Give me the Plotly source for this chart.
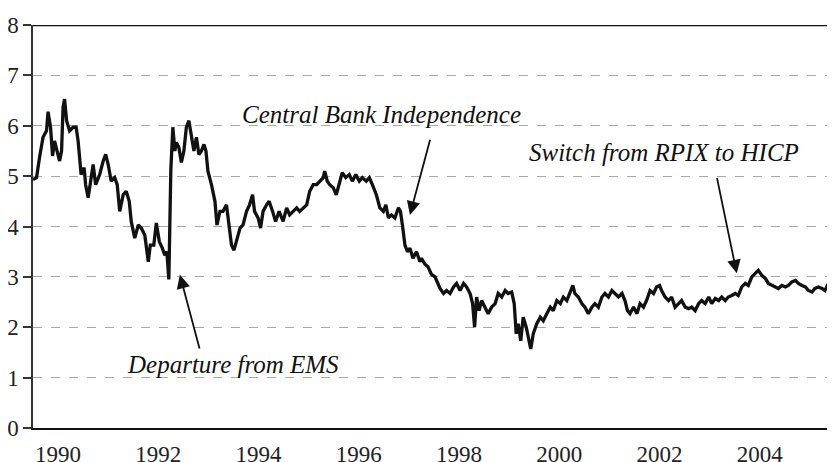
import plotly.graph_objects as go

# inflation expectations series (decimal years)
years = [
    1990.00, 1990.07, 1990.13, 1990.20, 1990.27, 1990.30, 1990.35, 1990.39, 1990.43, 1990.48,
    1990.53, 1990.57, 1990.60, 1990.63, 1990.67, 1990.73, 1990.80, 1990.86, 1990.90, 1990.96,
    1991.02, 1991.05, 1991.10, 1991.15, 1991.20, 1991.25, 1991.33, 1991.40, 1991.45, 1991.50,
    1991.56, 1991.63, 1991.68, 1991.73, 1991.80, 1991.86, 1991.92, 1991.96, 1992.03, 1992.10,
    1992.16, 1992.23, 1992.30, 1992.34, 1992.41, 1992.46, 1992.52, 1992.58, 1992.63, 1992.67,
    1992.71, 1992.75, 1992.79, 1992.83, 1992.86, 1992.91, 1992.96, 1993.01, 1993.06, 1993.11,
    1993.16, 1993.21, 1993.26, 1993.31, 1993.36, 1993.41, 1993.45, 1993.49, 1993.56, 1993.63,
    1993.67, 1993.73, 1993.79, 1993.86, 1993.91, 1993.96, 1994.01, 1994.06, 1994.13, 1994.19,
    1994.26, 1994.32, 1994.38, 1994.42, 1994.49, 1994.54, 1994.59, 1994.66, 1994.71, 1994.78,
    1994.84, 1994.91, 1994.99, 1995.06, 1995.12, 1995.19, 1995.26, 1995.32, 1995.39, 1995.46,
    1995.52, 1995.59, 1995.66, 1995.72, 1995.79, 1995.82, 1995.87, 1995.92, 1995.99, 1996.05,
    1996.12, 1996.17, 1996.24, 1996.31, 1996.37, 1996.44, 1996.51, 1996.57, 1996.65, 1996.71,
    1996.77, 1996.85, 1996.92, 1996.99, 1997.04, 1997.09, 1997.15, 1997.22, 1997.29, 1997.33,
    1997.37, 1997.42, 1997.47, 1997.52, 1997.58, 1997.65, 1997.72, 1997.75, 1997.82, 1997.88,
    1997.95,
    1998.02, 1998.12, 1998.19, 1998.25, 1998.32, 1998.39, 1998.45, 1998.52, 1998.59, 1998.65,
    1998.72, 1998.77, 1998.81, 1998.85, 1998.90, 1998.95, 1999.02, 1999.08, 1999.15, 1999.22,
    1999.28, 1999.35, 1999.42, 1999.48, 1999.55, 1999.60, 1999.64, 1999.68, 1999.73, 1999.78,
    1999.84, 1999.88, 1999.93, 1999.98, 2000.05, 2000.12, 2000.18, 2000.25, 2000.32, 2000.38,
    2000.45, 2000.52, 2000.58, 2000.65, 2000.71, 2000.77, 2000.81, 2000.88, 2000.95, 2001.01,
    2001.08, 2001.15, 2001.21, 2001.28, 2001.35, 2001.41, 2001.48, 2001.55, 2001.61, 2001.68,
    2001.75, 2001.81, 2001.86, 2001.91, 2001.98, 2002.05, 2002.11, 2002.18, 2002.24, 2002.31,
    2002.38, 2002.44, 2002.50, 2002.54, 2002.61, 2002.68, 2002.74, 2002.81, 2002.88, 2002.94,
    2003.01, 2003.08, 2003.14, 2003.21, 2003.28, 2003.34, 2003.41, 2003.48, 2003.54, 2003.61,
    2003.68, 2003.74, 2003.81, 2003.87, 2003.94, 2004.01, 2004.07, 2004.14, 2004.21, 2004.27,
    2004.34, 2004.41, 2004.47, 2004.54, 2004.61, 2004.67, 2004.74, 2004.81, 2004.87, 2004.94,
    2005.01, 2005.07, 2005.14, 2005.21, 2005.27, 2005.34, 2005.41, 2005.47, 2005.54, 2005.60,
    2005.67, 2005.74, 2005.80, 2005.87, 2005.94, 2006.00,
]
values = [
    4.93, 4.97, 5.37, 5.77, 5.90, 6.28, 5.97, 5.40, 5.70, 5.50,
    5.30, 5.50, 6.37, 6.53, 6.10, 5.90, 5.97, 5.97, 5.70, 5.03,
    5.17, 4.83, 4.57, 4.90, 5.23, 4.83, 5.03, 5.30, 5.43, 5.23,
    4.90, 4.97, 4.83, 4.30, 4.63, 4.70, 4.50, 4.10, 3.77, 4.03,
    3.97, 3.83, 3.30, 3.63, 3.63, 4.07, 3.70, 3.57, 3.43, 3.50,
    2.95, 5.13, 5.97, 5.50, 5.67, 5.57, 5.27, 5.50, 5.97, 6.10,
    5.83, 5.50, 5.77, 5.43, 5.50, 5.63, 5.50, 5.10, 4.83, 4.50,
    4.03, 4.30, 4.30, 4.43, 4.03, 3.63, 3.53, 3.70, 3.97, 4.03,
    4.30, 4.43, 4.63, 4.30, 4.17, 3.97, 4.30, 4.43, 4.50, 4.30,
    4.10, 4.30, 4.10, 4.37, 4.23, 4.30, 4.37, 4.30, 4.37, 4.43,
    4.70, 4.83, 4.83, 4.90, 4.97, 5.10, 4.90, 4.83, 4.77, 4.63,
    4.90, 5.07, 4.97, 5.03, 4.90, 5.03, 4.90, 4.97, 4.90, 4.97,
    4.83, 4.63, 4.37, 4.30, 4.43, 4.17, 4.23, 4.17, 4.37, 4.30,
    4.03, 3.63, 3.50, 3.57, 3.37, 3.50, 3.30, 3.37, 3.25, 3.20,
    3.05,
    3.00, 2.77, 2.67, 2.73, 2.67, 2.80, 2.87, 2.73, 2.87, 2.80,
    2.67, 2.47, 2.00, 2.60, 2.33, 2.53, 2.40, 2.27, 2.40, 2.47,
    2.67, 2.60, 2.73, 2.67, 2.70, 2.47, 1.87, 2.07, 1.73, 2.20,
    2.00, 1.80, 1.57, 1.87, 2.07, 2.20, 2.13, 2.27, 2.40, 2.33,
    2.53, 2.47, 2.60, 2.53, 2.67, 2.83, 2.67, 2.60, 2.47, 2.40,
    2.27, 2.40, 2.47, 2.40, 2.60, 2.67, 2.60, 2.73, 2.67, 2.60,
    2.67, 2.53, 2.33, 2.27, 2.40, 2.27, 2.47, 2.40, 2.53, 2.73,
    2.67, 2.80, 2.83, 2.73, 2.60, 2.53, 2.60, 2.40, 2.47, 2.53,
    2.40, 2.37, 2.40, 2.33, 2.47, 2.53, 2.47, 2.60, 2.47, 2.57,
    2.53, 2.60, 2.53, 2.60, 2.63, 2.67, 2.63, 2.80, 2.87, 2.83,
    3.00, 3.07, 3.13, 3.03, 2.97, 2.87, 2.83, 2.80, 2.77, 2.83,
    2.80, 2.83, 2.90, 2.93, 2.87, 2.83, 2.80, 2.73, 2.70, 2.77,
    2.80, 2.77, 2.73, 2.87, 2.93, 2.90,
]

label_years = [1990, 1992, 1994, 1996, 1998, 2000, 2002, 2004]
y_ticks = [0, 1, 2, 3, 4, 5, 6, 7, 8]

# events: label, text centre (x, y), arrow tail (x, y), arrow head (x, y)
events = [
    ("Departure from EMS", 1993.99, 1.27, 1993.33, 1.55, 1992.93, 3.04),
    ("Central Bank Independence", 1996.95, 6.23, 1997.93, 5.75, 1997.52, 4.23),
    ("Switch from RPIX to HICP", 2002.59, 5.46, 2003.64, 4.99, 2004.04, 3.07),
]

SERIF = "Liberation Serif, Times New Roman, serif"
INK = "#111111"

fig = go.Figure()
fig.add_trace(
    go.Scatter(
        x=years,
        y=values,
        mode="lines",
        line=dict(color=INK, width=3.3),
        showlegend=False,
        hoverinfo="skip",
    )
)

for label, tx, ty, ax, ay, hx, hy in events:
    fig.add_annotation(
        x=hx, y=hy, ax=ax, ay=ay, xref="x", yref="y", axref="x", ayref="y",
        text="", showarrow=True, arrowhead=2, arrowsize=1.5, arrowwidth=1.8,
        arrowcolor=INK, standoff=0, startstandoff=0,
    )
    fig.add_annotation(
        x=tx, y=ty, xref="x", yref="y", text=label, showarrow=False,
        xanchor="center", yanchor="middle",
        font=dict(family=SERIF, size=25, color=INK, style="italic"),
    )

# top frame line
fig.add_shape(type="line", xref="paper", yref="y", x0=0, x1=1, y0=8, y1=8,
              line=dict(color=INK, width=2.5))

# the page body keeps an 8px margin, so the plot area is shifted up/left by 8px
fig.update_layout(
    width=827,
    height=462,
    margin=dict(l=25, r=0, t=17, b=42, autoexpand=False),
    paper_bgcolor="white",
    plot_bgcolor="white",
    font=dict(family=SERIF, size=23, color="#222222"),
    xaxis=dict(
        range=[1990, 2006.0],
        automargin=False,
        tickmode="array",
        tickvals=[y + 0.5 for y in label_years],
        ticktext=[str(y) for y in label_years],
        ticks="",
        ticklabelstandoff=4,
        showgrid=False,
        zeroline=False,
        showline=True,
        linecolor=INK,
        linewidth=2,
    ),
    xaxis2=dict(
        range=[1990, 2006.0],
        automargin=False,
        overlaying="x",
        anchor="y",
        side="bottom",
        tickmode="linear",
        tick0=1990,
        dtick=1,
        ticks="outside",
        ticklen=10,
        tickwidth=1.5,
        tickcolor="#333333",
        showticklabels=False,
        showgrid=False,
        zeroline=False,
        showline=False,
        minor=dict(tickmode="linear", tick0=1990, dtick=0.25, ticks="outside",
                   ticklen=5, tickwidth=1, tickcolor="#555555", showgrid=False),
    ),
    yaxis=dict(
        range=[0, 8],
        automargin=False,
        tickmode="array",
        tickvals=y_ticks,
        ticks="outside",
        ticklen=8,
        tickwidth=1.5,
        tickcolor="#333333",
        showgrid=True,
        gridcolor="#a9a9a9",
        gridwidth=1,
        griddash="dash",
        zeroline=False,
        showline=True,
        linecolor="#333333",
        linewidth=1.5,
    ),
)

fig.write_html("out.html")
